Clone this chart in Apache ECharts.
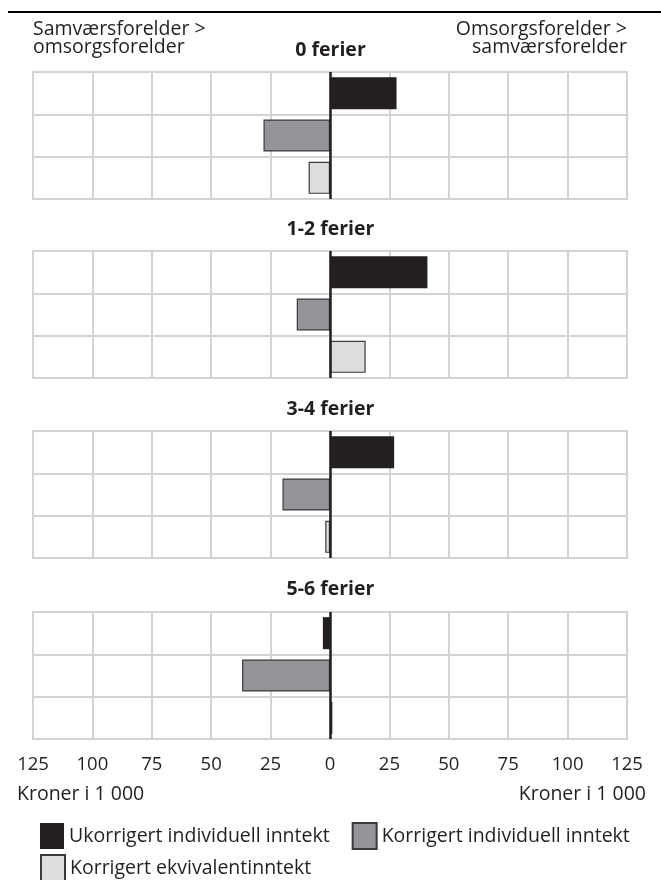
<!DOCTYPE html>
<html>
<head>
<meta charset="utf-8">
<script src="https://cdn.jsdelivr.net/npm/echarts@6/dist/echarts.min.js"></script>
<style>
  html, body { margin: 0; padding: 0; background: #fff; }
  #container { width: 661px; height: 880px; }
</style>
</head>
<body>
<div id="container"></div>
<script>
  // panels (ferier) and the three measures
  var panels = ['0 ferier', '1-2 ferier', '3-4 ferier', '5-6 ferier'];
  var measures = ['Ukorrigert individuell inntekt', 'Korrigert individuell inntekt', 'Korrigert ekvivalentinntekt'];

  // values in 1 000 kroner, one array per measure, one entry per panel
  var ukorrigert = [28, 41, 27, -3];
  var korrigert = [-28, -14, -20, -37];
  var ekvivalent = [-9, 15, -2, 1];

  var colors = ['#231f20', '#939598', '#dcddde'];
  var values = [ukorrigert, korrigert, ekvivalent];
  var font = '"Open Sans", sans-serif';
  var ink = '#231f20';
  var gridGray = '#d1d3d4';
  var fs = 19.5;

  var gridTops = [72, 251, 431, 612];
  var titleTops = [35, 214, 394, 574];

  var dom = document.getElementById('container');
  var chart = echarts.init(dom, null, { renderer: 'canvas' });

  var grids = [], xAxes = [], yAxes = [], series = [];
  var titles = [];

  panels.forEach(function (p, i) {
    grids.push({
      left: 33, right: 34, top: gridTops[i], height: 127,
      show: true, borderColor: gridGray, borderWidth: 2
    });
    var last = i === panels.length - 1;
    xAxes.push({
      gridIndex: i, type: 'value', min: -125, max: 125, interval: 25,
      axisLine: { show: false }, axisTick: { show: false },
      splitLine: { show: true, lineStyle: { color: gridGray, width: 2 } },
      axisLabel: {
        show: last, margin: 16, color: ink, fontSize: 18.5, fontFamily: font,
        formatter: function (v) { return String(Math.abs(v)); }
      }
    });
    yAxes.push({
      gridIndex: i, type: 'category', inverse: true, data: ['a', 'b', 'c'],
      axisLine: { show: false }, axisTick: { show: false }, axisLabel: { show: false },
      splitLine: { show: true, lineStyle: { color: gridGray, width: 2 } }
    });
    titles.push({
      text: p, left: 'center', top: titleTops[i],
      textStyle: { fontFamily: font, fontSize: 19.5, fontWeight: 'bold', color: ink }
    });

    measures.forEach(function (m, k) {
      var data = ['-', '-', '-'];
      data[k] = values[k][i];
      var s = {
        name: m, type: 'bar', xAxisIndex: i, yAxisIndex: i,
        data: data, barWidth: 32, barGap: '-100%',
        itemStyle: {
          color: colors[k],
          borderColor: k === 0 ? colors[k] : '#3a3a3a',
          borderWidth: k === 0 ? 0 : 1.2
        }
      };
      if (k === 2) {
        s.markLine = {
          silent: true, symbol: 'none', label: { show: false },
          lineStyle: { color: ink, width: 2.5, type: 'solid' },
          data: [{ xAxis: 0 }],
          z: 10
        };
      }
      series.push(s);
    });
  });

  function txt(x, y, s, align) {
    return {
      type: 'text', x: x, y: y,
      style: {
        text: s, fill: ink, font: fs + 'px ' + font,
        align: align, verticalAlign: 'middle', lineHeight: 17.5
      }
    };
  }

  var legendText = { fontFamily: font, fontSize: fs, color: ink };

  chart.setOption({
    animation: false,
    backgroundColor: '#ffffff',
    title: titles,
    legend: [
      {
        data: measures.slice(0, 2), left: 35, top: 817, itemWidth: 24, itemHeight: 26,
        itemGap: 22, textStyle: legendText, selectedMode: false, icon: 'rect'
      },
      {
        data: measures.slice(2), left: 35, top: 849, itemWidth: 24, itemHeight: 26,
        textStyle: legendText, selectedMode: false, icon: 'rect'
      }
    ],
    graphic: [
      {
        type: 'line', shape: { x1: 8, y1: 12, x2: 661, y2: 12 },
        style: { stroke: '#000', lineWidth: 2 }
      },
      txt(33, 38.5, 'Samværsforelder >\nomsorgsforelder', 'left'),
      txt(627, 38.5, 'Omsorgsforelder >\nsamværsforelder', 'right'),
      txt(17, 794, 'Kroner i 1 000', 'left'),
      txt(646, 794, 'Kroner i 1 000', 'right')
    ],
    grid: grids,
    xAxis: xAxes,
    yAxis: yAxes,
    series: series
  });

  window.addEventListener('resize', function () { chart.resize(); });
</script>
</body>
</html>
